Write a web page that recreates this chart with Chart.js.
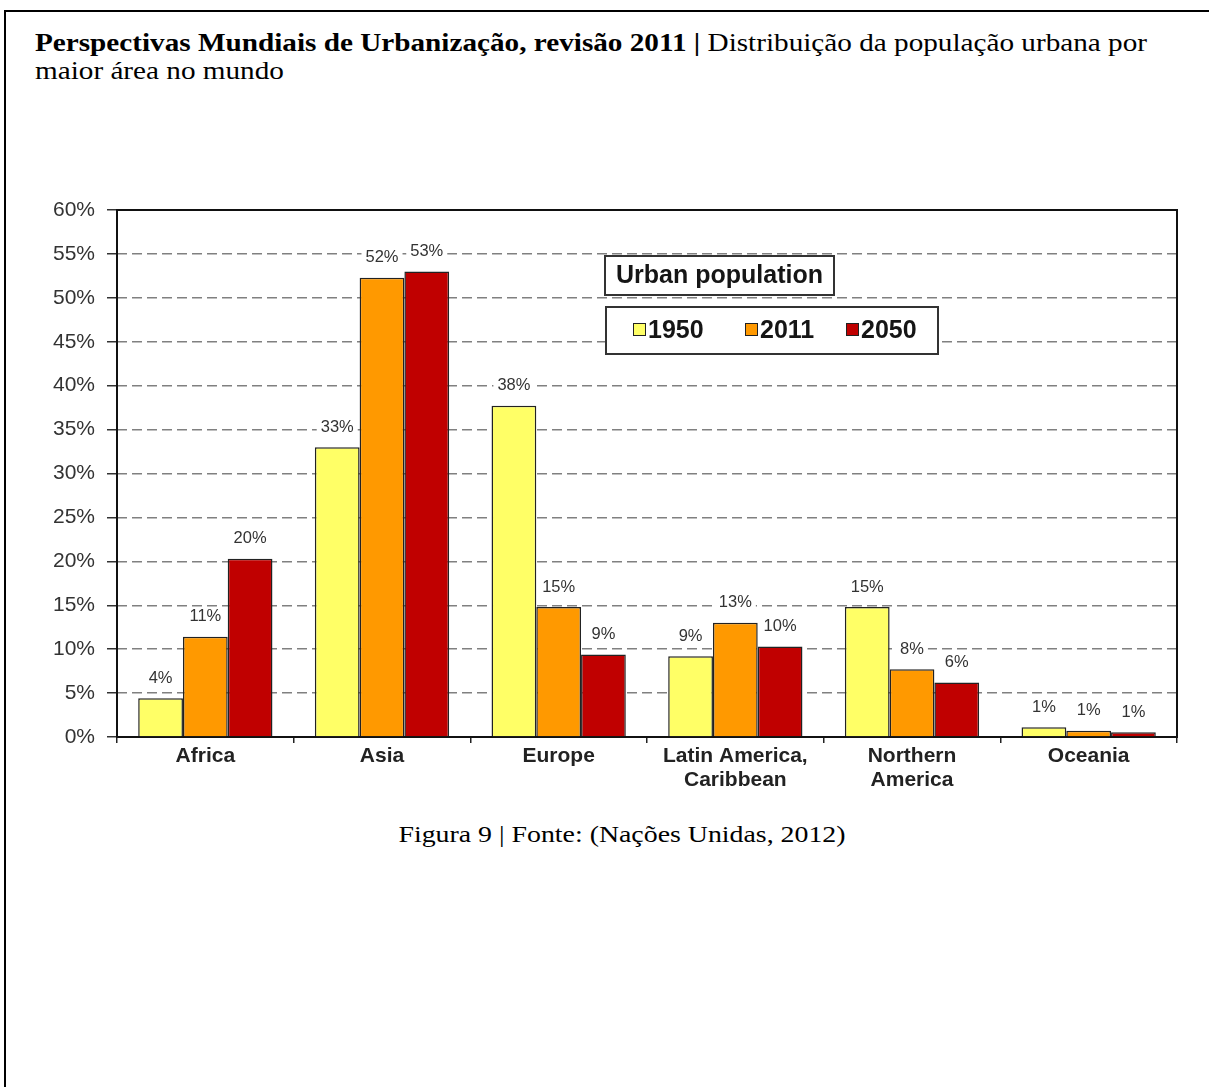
<!DOCTYPE html>
<html>
<head>
<meta charset="utf-8">
<script src="https://cdn.jsdelivr.net/npm/chart.js@4"></script>
<style>
  html, body { margin: 0; padding: 0; background: #fff; }
  body { width: 1209px; height: 1087px; position: relative; overflow: hidden; }
  #frame { position: absolute; left: 4px; top: 10px; right: -10px; bottom: -10px;
           border-top: 2px solid #000; border-left: 2px solid #000; }
  #title { position: absolute; left: 35px; top: 29px; font-family: "Liberation Serif", "Times New Roman", serif;
           font-size: 26px; line-height: 28px; color: #000; white-space: nowrap;
           transform: scaleX(1.123); transform-origin: 0 0; }
  #caption { position: absolute; left: 622px; top: 820px; transform: translateX(-50%) scaleX(1.16);
             font-family: "Liberation Serif", "Times New Roman", serif; font-size: 24px; line-height: 28px; color: #000; white-space: nowrap; }
  #wrap { position: absolute; left: 30px; top: 180px; width: 1170px; height: 630px; }
</style>
</head>
<body>
<div id="frame"></div>
<div id="title"><b>Perspectivas Mundiais de Urbanização, revisão 2011 |</b> Distribuição da população urbana por<br>maior área no mundo</div>
<div id="wrap"><canvas id="c"></canvas></div>
<div id="caption">Figura 9 | Fonte: (Nações Unidas, 2012)</div>
<script>
// ---- data ----
const categories = [["Africa"], ["Asia"], ["Europe"], ["Latin America,", "Caribbean"], ["Northern", "America"], ["Oceania"]];
const seriesNames = ["1950", "2011", "2050"];
const values1950 = [4.4, 33.0, 37.7, 9.2, 14.8, 1.1];
const values2011 = [11.4, 52.3, 14.8, 13.0, 7.7, 0.7];
const values2050 = [20.3, 53.0, 9.4, 10.3, 6.2, 0.55];
const yTicks = [0, 5, 10, 15, 20, 25, 30, 35, 40, 45, 50, 55, 60];
const legendTitle = "Urban population";

const colors = ["#FFFF66", "#FF9900", "#C00000"];
const SANS = '"Liberation Sans", Arial, sans-serif';

const frameBox = {
  id: 'frameBox',
  beforeDatasetsDraw(chart) {
    const {ctx, chartArea: a} = chart;
    ctx.save();
    ctx.strokeStyle = '#111';
    ctx.lineWidth = 2;
    ctx.strokeRect(a.left, a.top, a.right - a.left, a.bottom - a.top);
    ctx.restore();
  }
};

const barLabels = {
  id: 'barLabels',
  afterDatasetsDraw(chart) {
    const ctx = chart.ctx;
    ctx.save();
    ctx.font = '16.5px ' + SANS;
    ctx.textAlign = 'center';
    ctx.textBaseline = 'middle';
    chart.data.datasets.forEach((ds, di) => {
      const meta = chart.getDatasetMeta(di);
      meta.data.forEach((bar, i) => {
        const txt = Math.round(ds.data[i]) + '%';
        const x = bar.x, y = bar.y - 20;
        const w = ctx.measureText(txt).width;
        ctx.fillStyle = '#fff';
        ctx.fillRect(x - w / 2 - 4, y - 9, w + 8, 18);
        ctx.fillStyle = '#333';
        ctx.fillText(txt, x, y);
      });
    });
    ctx.restore();
  }
};

const boxLegend = {
  id: 'boxLegend',
  afterDraw(chart) {
    const ctx = chart.ctx;
    const ox = -30, oy = -180; // page -> canvas offset
    ctx.save();
    ctx.lineWidth = 2;
    ctx.strokeStyle = '#333';
    ctx.fillStyle = '#fff';
    ctx.fillRect(605 + ox, 256 + oy, 229, 39);
    ctx.strokeRect(605 + ox, 256 + oy, 229, 39);
    ctx.font = 'bold 25px ' + SANS;
    ctx.fillStyle = '#151515';
    ctx.textAlign = 'center';
    ctx.textBaseline = 'middle';
    ctx.fillText(legendTitle, 719.5 + ox, 276 + oy);
    ctx.fillStyle = '#fff';
    ctx.fillRect(606 + ox, 307 + oy, 332, 47);
    ctx.strokeRect(606 + ox, 307 + oy, 332, 47);
    const xs = [633, 745, 846];
    ctx.textAlign = 'left';
    chart.data.datasets.forEach((ds, i) => {
      ctx.fillStyle = ds.backgroundColor;
      ctx.lineWidth = 1;
      ctx.strokeStyle = '#222';
      ctx.fillRect(xs[i] + ox, 323 + oy, 12, 12);
      ctx.strokeRect(xs[i] + ox + 0.5, 323 + oy + 0.5, 12, 12);
      ctx.fillStyle = '#151515';
      ctx.fillText(ds.label, xs[i] + 15 + ox, 331 + oy);
    });
    ctx.restore();
  }
};

const seriesValues = [values1950, values2011, values2050];

new Chart(document.getElementById('c'), {
  type: 'bar',
  data: {
    labels: categories,
    datasets: seriesNames.map((n, i) => ({
      label: n,
      data: seriesValues[i],
      backgroundColor: colors[i],
      borderColor: '#222',
      borderWidth: 1.5,
      barPercentage: 1.0,
      categoryPercentage: 0.76
    }))
  },
  options: {
    responsive: true,
    maintainAspectRatio: false,
    animation: false,
    layout: { padding: { top: 30, right: 23, left: 0, bottom: 0 } },
    plugins: { legend: { display: false }, tooltip: { enabled: false } },
    scales: {
      x: {
        afterFit(s) { s.height = 73; },
        border: { display: false },
        grid: { drawOnChartArea: false, offset: true, tickLength: 6, color: '#222', lineWidth: 1.5 },
        ticks: { padding: 1, color: '#222', font: { family: SANS, size: 21, weight: 'bold', lineHeight: 1.15 }, maxRotation: 0 }
      },
      y: {
        min: 0, max: 60,
        afterFit(s) { s.width = 87; },
        afterBuildTicks(s) { s.ticks = yTicks.map(v => ({ value: v })); },
        border: { display: false, dash: [10, 5] },
        grid: {
          color: (c) => (c.tick && (c.tick.value === 0 || c.tick.value === 60)) ? 'rgba(0,0,0,0)' : '#808080',
          tickColor: '#333',
          lineWidth: 1.5,
          tickBorderDash: [],
          tickLength: 10
        },
        ticks: { padding: 12, color: '#333', font: { family: SANS, size: 21 }, callback: (v) => v + '%' }
      }
    }
  },
  plugins: [frameBox, barLabels, boxLegend]
});
</script>
</body>
</html>
